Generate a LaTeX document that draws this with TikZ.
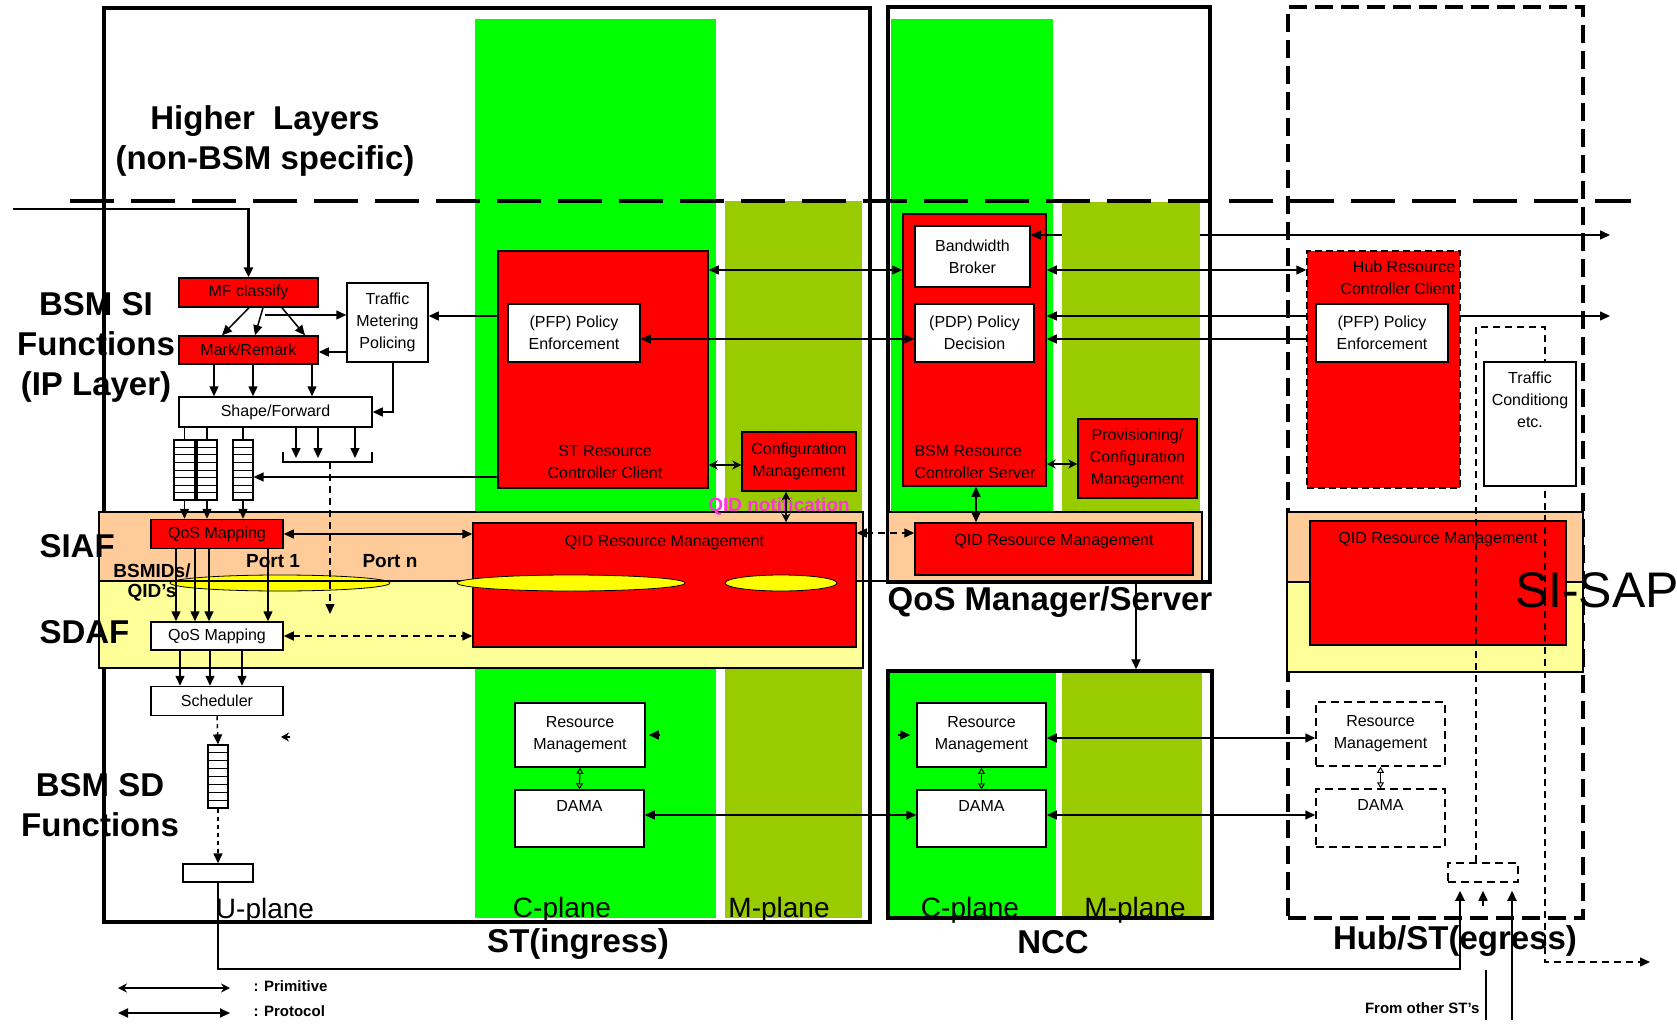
\documentclass[tikz,border=0pt]{standalone}
\usepackage{fontspec}
\setmainfont{Liberation Sans}
\usetikzlibrary{arrows.meta,calc,positioning}

\definecolor{cgreen}{HTML}{00FF00}
\definecolor{molive}{HTML}{99CC00}
\definecolor{boxred}{HTML}{FF0000}
\definecolor{siaf}{HTML}{FFCC99}
\definecolor{sdaf}{HTML}{FFFF99}
\definecolor{lens}{HTML}{FFFF00}
\definecolor{notif}{HTML}{FF33DD}

\newcommand\boxfont{\fontsize{16}{22}\selectfont}
\newcommand\headfont{\fontsize{33}{40}\selectfont\bfseries}
\newcommand\planefont{\fontsize{28}{30}\selectfont}

\tikzset{
  box/.style={draw, line width=1.5pt, fill=white, font=\boxfont, align=center, inner sep=1pt},
  redbox/.style={box, fill=boxred},
  hubbox/.style={box, dash pattern=on 8pt off 5pt},
  outer/.style={draw, line width=3.5pt, inner sep=0pt},
  queue/.style={draw, line width=1.2pt, fill=white, minimum width=20pt, minimum height=60pt},
  lbl/.style={font=\boxfont, align=center},
  head/.style={font=\headfont, align=center},
  plane/.style={font=\planefont},
  portlbl/.style={font=\fontsize{19}{20}\selectfont\bfseries},
  arr/.style={line width=1.5pt, -{Triangle[length=10pt,width=9pt]}},
  prot/.style={line width=1.5pt, {Triangle[length=10pt,width=9pt]}-{Triangle[length=10pt,width=9pt]}},
  prim/.style={line width=1.2pt, {Stealth[length=9pt,width=9pt]}-{Stealth[length=9pt,width=9pt]}},
  tiny/.style={line width=1pt, {Triangle[open,length=6pt,width=7pt]}-{Triangle[open,length=6pt,width=7pt]}},
  dsh/.style={dash pattern=on 7pt off 5pt},
}

\begin{document}
\begin{tikzpicture}[x=1pt, y=-1pt]
  \useasboundingbox[fill=white] (0,0) rectangle (1677,1024);

  % C-plane / M-plane columns
  \fill[cgreen] (475,19) rectangle (716,918);
  \fill[molive] (725,201) rectangle (862,918);
  \fill[cgreen] (891,19) rectangle (1053,511);
  \fill[molive] (1062,202) rectangle (1200,511);
  \fill[cgreen] (888,671) rectangle (1056,918);
  \fill[molive] (1062,671) rectangle (1202,918);

  % outer frames
  \node[outer, minimum width=766pt, minimum height=914pt] (stbox) at (487,465) {};
  \node[outer, minimum width=322pt, minimum height=575pt] (nccup) at (1049,294.5) {};
  \node[outer, minimum width=324pt, minimum height=247pt] (ncclow) at (1050,794.5) {};
  \node[outer, dash pattern=on 18pt off 8pt, minimum width=295pt, minimum height=911pt] (hubbox) at (1435.5,462.5) {};

  \draw[line width=3.5pt, dash pattern=on 44pt off 17pt] (70,201) -- (1631,201);

  % SIAF / SDAF bands
  \filldraw[fill=siaf, line width=1.2pt] (99,512) rectangle (863,581);
  \filldraw[fill=sdaf, line width=1.2pt] (99,581) rectangle (863,668);
  \filldraw[fill=siaf, line width=1.2pt] (888,512) rectangle (1202,582);
  \filldraw[fill=siaf, line width=1.2pt] (1287,512) rectangle (1583,582);
  \filldraw[fill=sdaf, line width=1.2pt] (1287,582) rectangle (1583,672);
  \filldraw[fill=lens, line width=0.8pt] (280,583) ellipse [x radius=110, y radius=8];
  \draw[line width=1.5pt] (99,581) -- (1210,581);

  % ST (ingress), U-plane
  \node[redbox, minimum width=139pt, minimum height=29pt] (mf) at (248.5,292.5) {MF classify};
  \node[redbox, minimum width=139pt, minimum height=28pt] (mark) at (248.5,350) {Mark/Remark};
  \node[box, minimum width=81pt, minimum height=79pt] (meter) at (387.5,322.5) {Traffic\\Metering\\Policing};
  \node[box, minimum width=193pt, minimum height=30pt] (shape) at (275.5,412) {Shape/Forward};
  \node[queue, minimum width=21pt] (q1) at (184.5,470) {};
  \node[queue] (q2) at (207,470) {};
  \node[queue] (q3) at (243,470) {};
  \node[redbox, minimum width=132pt, minimum height=29pt] (qmr) at (217,534) {QoS Mapping};
  \node[box, minimum width=132pt, minimum height=28pt] (qmw) at (217,636) {QoS Mapping};
  \node[box, minimum width=132pt, minimum height=29pt] (sch) at (217,701) {Scheduler};
  \node[queue, minimum height=63pt] (q4) at (218,776.5) {};
  \node[box, minimum width=70pt, minimum height=18pt] (ubox) at (218,873) {};
  \foreach \q in {q1,q2,q3,q4}
    \foreach \k in {1,...,7}
      \draw[line width=1pt] ($(\q.north west)!\k/8!(\q.south west)$) -- ($(\q.north east)!\k/8!(\q.south east)$);

  % ST (ingress), C-plane and M-plane
  \node[redbox, minimum width=210pt, minimum height=237pt] (stc) at (603,369.5) {};
  \node[lbl] (stclbl) at (605,462) {ST Resource\\Controller Client};
  \node[box, minimum width=132pt, minimum height=58pt] (stpfp) at (574,333) {(PFP) Policy\\Enforcement};
  \node[redbox, minimum width=114pt, minimum height=59pt] (stcfg) at (799,461.5) {Configuration\\Management};
  \node[redbox, minimum width=383pt, minimum height=124pt] (stq) at (664.5,585) {};
  \node[lbl, below=10pt of stq.north] (stqlbl) {QID Resource Management};
  \filldraw[fill=lens, line width=0.8pt] (571,583) ellipse [x radius=114, y radius=8];
  \filldraw[fill=lens, line width=0.8pt] (781,583) ellipse [x radius=56, y radius=8];
  \node[font=\fontsize{19}{20}\selectfont\bfseries, text=notif] (qidn) at (779,506) {QID notification};
  \node[box, minimum width=130pt, minimum height=64pt] (strm) at (580,735) {Resource\\Management};
  \node[box, minimum width=129pt, minimum height=57pt] (stdama) at (579.5,818.5) {};
  \node[lbl, below=8pt of stdama.north] (stdamalbl) {DAMA};

  % NCC
  \node[redbox, minimum width=143pt, minimum height=272pt] (brcs) at (974.5,350) {};
  \node[lbl, align=left] (brcslbl) at (975,462) {BSM Resource\\Controller Server};
  \node[box, minimum width=115pt, minimum height=61pt] (bb) at (972.5,256.5) {Bandwidth\\Broker};
  \node[box, minimum width=119pt, minimum height=58pt] (pdp) at (974.5,333) {(PDP) Policy\\Decision};
  \node[redbox, minimum width=119pt, minimum height=79pt] (prov) at (1137.5,458.5) {Provisioning/\\Configuration\\Management};
  \node[redbox, minimum width=278pt, minimum height=52pt] (ncq) at (1054,549) {};
  \node[lbl, below=9pt of ncq.north] (ncqlbl) {QID Resource Management};
  \node[box, minimum width=129pt, minimum height=64pt] (ncrm) at (981.5,735) {Resource\\Management};
  \node[box, minimum width=129pt, minimum height=57pt] (ncdama) at (981.5,818.5) {};
  \node[lbl, below=8pt of ncdama.north] (ncdamalbl) {DAMA};

  \coordinate (outpfp) at (1610,316);
  \draw[prot] (brcs.east |- 0,316) -- (outpfp);

  % Hub/ST (egress)
  \node[redbox, dash pattern=on 7pt off 4pt, minimum width=153pt, minimum height=237pt] (hrc) at (1383.5,369.5) {};
  \node[lbl, align=right, anchor=north east] (hrclbl) at ([xshift=-2pt,yshift=-7pt]hrc.north east) {Hub Resource\\Controller Client};
  \node[box, minimum width=132pt, minimum height=58pt] (hpfp) at (1382,333) {(PFP) Policy\\Enforcement};
  \node[redbox, minimum width=256pt, minimum height=124pt] (hq) at (1438,583) {};
  \node[lbl, below=9pt of hq.north] (hqlbl) {QID Resource Management};
  \node[hubbox, minimum width=129pt, minimum height=64pt] (hrm) at (1380.5,734) {Resource\\Management};
  \node[hubbox, minimum width=129pt, minimum height=58pt] (hdama) at (1380.5,818) {};
  \node[lbl, below=8pt of hdama.north] (hdamalbl) {DAMA};
  \node[hubbox, minimum width=70pt, minimum height=19pt] (sbox) at (1483,872.5) {};
  \coordinate (outtc) at (1650,962);
  \draw[arr, line width=1.2pt, dsh] (sbox.north -| 1476,0) |- (1545,327) |- (outtc);
  \node[box, minimum width=92pt, minimum height=124pt] (tc) at (1530,424) {};
  \node[lbl, below=7pt of tc.north] (tclbl) {Traffic\\Conditiong\\etc.};
  \node[font=\fontsize{50}{52}\selectfont] (sisap) at (1597,590) {SI-SAP};

  % U-plane connectors
  \coordinate (in) at (13,209);
  \draw[arr, line width=2.5pt] (in) -| (mf.north);
  \foreach \a/\b in {249/222, 263/255, 282/305}
    \draw[arr] (mf.south -| \a,0) -- (mark.north -| \b,0);
  \coordinate (fan) at (265,315);
  \draw[arr] (fan) -- (meter.west |- fan);
  \draw[arr] (meter.west |- 0,352) -- (mark.east |- 0,352);
  \draw[arr] (meter.south -| 393,0) |- (shape.east);
  \draw[arr] (stc.west |- 0,316) -- (meter.east |- 0,316);
  \foreach \x in {214,253,312}
    \draw[arr] (mark.south -| \x,0) -- (shape.north -| \x,0);
  \foreach \q in {q1,q2,q3}
    \draw[line width=1.2pt] (shape.south -| \q.north) -- (\q.north);
  \coordinate (brk) at (330,462);
  \draw[line width=1.2pt] (283,452) -- (283,462) -- (372,462) -- (372,452);
  \foreach \x in {296,318,355}
    \draw[arr] (shape.south -| \x,0) -- (\x,458);
  \coordinate (brkend) at (330,614);
  \draw[arr, dsh] (brk) -- (brkend);
  \draw[arr] (stc.west |- 0,477) -- (q3.east |- 0,477);
  \foreach \q in {q1,q2,q3}
    \draw[arr] (\q.south) -- (\q.south |- qmr.north);
  \foreach \x in {176,195,209,268}
    \draw[arr] (qmr.south -| \x,0) -- (qmw.north -| \x,0);
  \foreach \x in {180,210,242}
    \draw[arr] (qmw.south -| \x,0) -- (sch.north -| \x,0);
  \draw[prot] (qmr.east) -- (qmr.east -| stq.west);
  \draw[prot, dsh] (qmw.east) -- (qmw.east -| stq.west);
  \draw[arr, dash pattern=on 4pt off 4pt] (sch.south) -- (q4.north);
  \draw[arr, dash pattern=on 4pt off 4pt] (q4.south) -- (ubox.north);
  \coordinate (stray) at (281,737);
  \draw[-{Stealth[length=8pt,width=9pt]}, line width=1.2pt] ([xshift=9pt]stray) -- (stray);
  \draw[arr, line width=2.5pt, shorten >=8pt] (ubox.south) |- (1460,969) -- (sbox.south -| 1460,0);

  % C-plane / M-plane connectors
  \draw[prim] (stc.east |- 0,465) -- (stcfg.west |- 0,465);
  \draw[prim] (stcfg.south -| 786,0) -- (stq.north -| 786,0);
  \draw[prot] (stc.east |- 0,270) -- (brcs.west |- 0,270);
  \draw[prot] (stpfp.east |- 0,339) -- (pdp.west |- 0,339);
  \draw[prot, dsh] (stq.east |- 0,533) -- (ncq.west |- 0,533);
  \draw[prim] (brcs.east |- 0,464) -- (prov.west |- 0,464);
  \draw[prot] (brcs.south -| 976,0) -- (ncq.north -| 976,0);
  \coordinate (qms) at (1136,582);
  \draw[arr, line width=2pt] (qms) -- (ncclow.north -| qms);
  \coordinate (olL) at (1062,235);
  \coordinate (olR) at (1200,235);
  \coordinate (outbb) at (1610,235);
  \draw[arr] (olL) -- (bb.east |- olL);
  \draw[arr] (olR) -- (outbb);
  \draw[prot] (brcs.east |- 0,270) -- (hrc.west |- 0,270);
  \draw[arr] (hrc.west |- 0,339) -- (brcs.east |- 0,339);
  \draw[tiny] (strm.south) -- (stdama.north);
  \draw[tiny] (ncrm.south) -- (ncdama.north);
  \draw[tiny] (hrm.south) -- (hdama.north);
  \draw[arr] ([xshift=14pt]strm.east) -- ([xshift=3pt]strm.east);
  \draw[arr] ([xshift=-18pt]ncrm.west) -- ([xshift=-6pt]ncrm.west);
  \draw[prot] (stdama.east |- 0,815) -- (ncdama.west |- 0,815);
  \draw[prot] (ncrm.east |- 0,738) -- (hrm.west |- 0,738);
  \draw[prot] (ncdama.east |- 0,815) -- (hdama.west |- 0,815);

  % from other ST's
  \coordinate (oth1) at (1486,1020);
  \coordinate (oth2) at (1512,1020);
  \draw[line width=1.5pt] (oth1) -- (1486,970);
  \draw[arr, shorten >=8pt] (1483,906) -- (sbox.south -| 1483,0);
  \draw[arr, line width=2pt, shorten >=8pt] (oth2) -- (sbox.south -| oth2);
  \node[anchor=east, font=\fontsize{15}{16}\selectfont\bfseries] (other) at (1483,1008) {From other ST's};

  % labels
  \node[head] (hl) at (265,141) {Higher\ \ Layers\\(non-BSM specific)};
  \node[head] (sifn) at (96,347) {BSM SI\\Functions\\(IP Layer)};
  \node[head, anchor=west] (siaf) at (36,546) {SIAF};
  \node[head, anchor=west] (sdaf) at (36,632) {SDAF};
  \node[portlbl, align=center] (bsmid) at (152,582) {BSMIDs/\\QID's};
  \node[portlbl] (p1) at (273,561) {Port 1};
  \node[portlbl] (pn) at (390,561) {Port n};
  \node[head] (sdfn) at (100,805) {BSM SD\\Functions};
  \node[plane] (up) at (265,911) {U-plane};
  \node[plane] (stcp) at (562,910) {C-plane};
  \node[plane] (stmp) at (779,910) {M-plane};
  \node[plane] (nccp) at (970,910) {C-plane};
  \node[plane] (ncmp) at (1135,910) {M-plane};
  \node[head] (stname) at (578,944) {ST(ingress)};
  \node[head] (nccname) at (1053,942) {NCC};
  \node[head] (hubname) at (1455,941) {Hub/ST(egress)};
  \node[head] (qmsname) at (1050,602) {QoS Manager/Server};

  % legend
  \coordinate (lg1a) at (118,988);
  \coordinate (lg1b) at (230,988);
  \coordinate (lg2a) at (118,1013);
  \coordinate (lg2b) at (230,1013);
  \draw[prim] (lg1a) -- (lg1b);
  \draw[prot, line width=2pt] (lg2a) -- (lg2b);
  \node[anchor=west, font=\fontsize{15}{16}\selectfont\bfseries] (lgprim) at (250,986) {: Primitive};
  \node[anchor=west, font=\fontsize{15}{16}\selectfont\bfseries] (lgprot) at (250,1011) {: Protocol};
\end{tikzpicture}
\end{document}
